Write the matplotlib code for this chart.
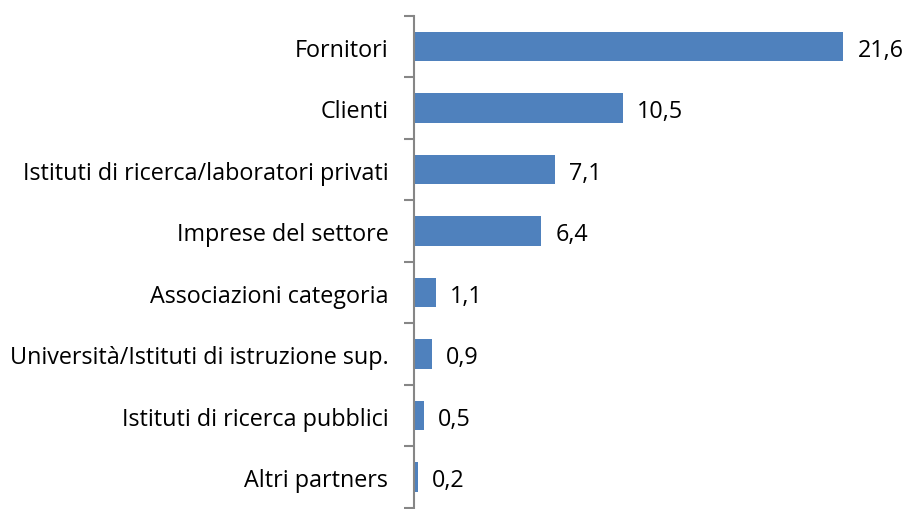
import matplotlib.pyplot as plt
import numpy as np

categories = ['Fornitori', 'Clienti', 'Istituti di ricerca/laboratori privati',
              'Imprese del settore', 'Associazioni categoria',
              'Università/Istituti di istruzione sup.', 'Istituti di ricerca pubblici',
              'Altri partners']
values = [21.6, 10.5, 7.1, 6.4, 1.1, 0.9, 0.5, 0.2]

plt.rcParams['font.family'] = ['Open Sans', 'DejaVu Sans']

fig = plt.figure(figsize=(9.09, 5.1), dpi=100)
ax = fig.add_axes([0.4554, 0.002, 0.525, 0.965])

y = np.arange(len(categories))
ax.barh(y, values, height=0.48, color='#4F81BD')
ax.set_ylim(len(categories) - 0.5, -0.5)
ax.set_xlim(0, 24)

for yi, v in zip(y, values):
    ax.text(v + 0.7, yi + 0.05, f'{v:.1f}'.replace('.', ','), va='center', ha='left',
            fontsize=16.8, color='black')

ax.set_yticks(y)
ax.set_yticklabels(categories, fontsize=16.8)
ax.tick_params(axis='y', which='major', length=0, pad=18.5)
ax.set_yticks(np.arange(-0.5, len(categories)), minor=True)
ax.tick_params(axis='y', which='minor', length=7, width=1.5, color='#868686')
ax.set_xticks([])

for s in ['top', 'right', 'bottom']:
    ax.spines[s].set_visible(False)
ax.spines['left'].set_color('#868686')
ax.spines['left'].set_linewidth(1.5)

plt.savefig('out.png', dpi=100)
